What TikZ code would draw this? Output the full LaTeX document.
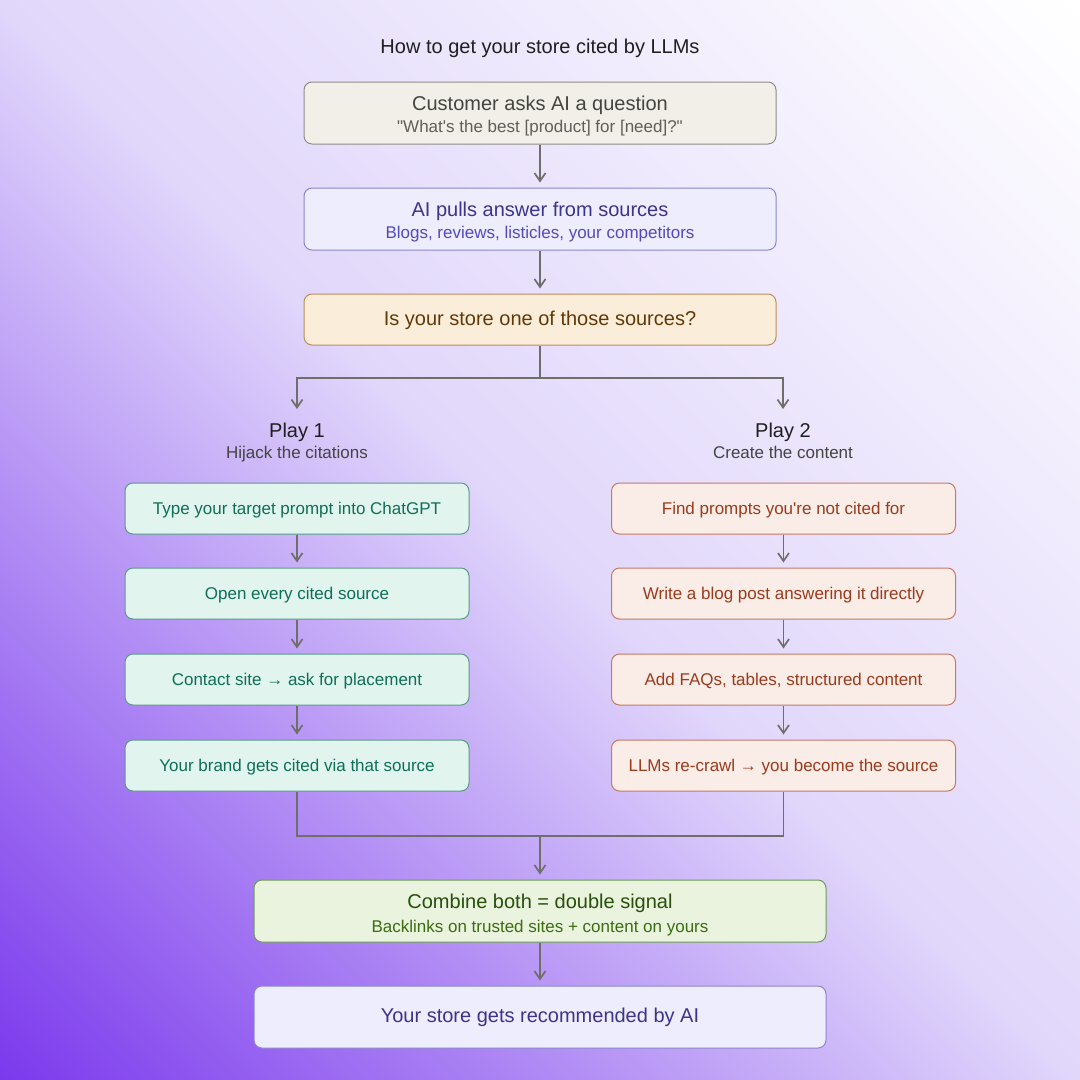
\documentclass[tikz,border=0pt]{standalone}
\usepackage{fontspec}
\setmainfont{Liberation Sans}[Ligatures=TeXOff]
\usetikzlibrary{arrows.meta}
\definecolor{bgA}{HTML}{7C3AED}
\definecolor{bgB}{HTML}{E1D7FB}
\definecolor{bgC}{HTML}{FFFFFF}
\pgfdeclarehorizontalshading{bgshade}{100bp}{color(0bp)=(bgA); color(14.64bp)=(bgA); color(50bp)=(bgB); color(85.36bp)=(bgC); color(100bp)=(bgC)}
\definecolor{grayF}{HTML}{F1EFE8}\definecolor{grayL}{HTML}{8F8D86}\definecolor{grayT}{HTML}{444441}\definecolor{grayS}{HTML}{5F5E5A}
\definecolor{purF}{HTML}{EEEDFE}\definecolor{purL}{HTML}{8A86CC}\definecolor{purT}{HTML}{3C3489}\definecolor{purS}{HTML}{534AB7}
\definecolor{ambF}{HTML}{FAEEDA}\definecolor{ambL}{HTML}{BE8D5A}\definecolor{ambT}{HTML}{633806}
\definecolor{teaF}{HTML}{E1F5EE}\definecolor{teaL}{HTML}{5A9A88}\definecolor{teaT}{HTML}{0F6E56}
\definecolor{corF}{HTML}{FAECE7}\definecolor{corL}{HTML}{C47A66}\definecolor{corT}{HTML}{993C1D}
\definecolor{grnF}{HTML}{EAF3DE}\definecolor{grnL}{HTML}{6E9A58}\definecolor{grnT}{HTML}{27500A}\definecolor{grnS}{HTML}{3B6D11}
\definecolor{arrC}{HTML}{6F6E6A}
\definecolor{headC}{HTML}{1F1F1F}
\begin{document}
\begin{tikzpicture}[x=1pt,y=-1pt,
  box/.style={draw, rounded corners=8pt, line width=1pt, inner sep=0pt},
  wbox/.style={box, minimum width=472pt, minimum height=62pt},
  sbox/.style={box, minimum width=344pt, minimum height=51pt},
  bbox/.style={box, minimum width=572pt, minimum height=62pt},
  tbig/.style={anchor=base, inner sep=0pt, font=\fontsize{20}{24}\selectfont},
  tsmall/.style={anchor=base, inner sep=0pt, font=\fontsize{17}{20}\selectfont},
  teal/.style={sbox, fill=teaF, draw=teaL},
  coral/.style={sbox, fill=corF, draw=corL},
  con/.style={draw=arrC, line width=1.7pt},
  arr/.style={con, -{Straight Barb[length=8pt,width=11pt]}},
]
\shade[shading=bgshade, shading angle=45] (0,0) rectangle (1080,1080);
\useasboundingbox (0,0) rectangle (1080,1080);

\node[tbig, text=headC] (title) at (540,53) {How to get your store cited by LLMs};

% top chain
\node[wbox, fill=grayF, draw=grayL] (q) at (540,113) {};
\node[tbig, text=grayT] (qa) at (540,110) {Customer asks AI a question};
\node[tsmall, text=grayS] (qb) at (540,132) {"What's the best [product] for [need]?"};

\node[wbox, fill=purF, draw=purL] (src) at (540,219) {};
\node[tbig, text=purT] (srca) at (540,216) {AI pulls answer from sources};
\node[tsmall, text=purS] (srcb) at (540,238) {Blogs, reviews, listicles, your competitors};

\node[box, minimum width=472pt, minimum height=51pt, fill=ambF, draw=ambL] (is) at (540,319.5) {};
\node[tbig, text=ambT] (isa) at (540,325) {Is your store one of those sources?};

\draw[arr, shorten >=5pt] (q.south) -- (src.north);
\draw[arr, shorten >=5pt] (src.south) -- (is.north);

% split
\coordinate (spl) at (540,378);
\coordinate (pla) at (297,409);
\coordinate (pra) at (783,409);
\draw[con] (is.south) -- (spl);
\draw[arr] (spl) -| (pla);
\draw[arr] (spl) -| (pra);

% play headings
\node[tbig, text=headC] (p1) at (297,437) {Play 1};
\node[tsmall, text=grayT] (p1s) at (297,458) {Hijack the citations};
\node[tbig, text=headC] (p2) at (783,437) {Play 2};
\node[tsmall, text=grayT] (p2s) at (783,458) {Create the content};

% left column
\node[teal] (l1) at (297,508.5) {};
\node[tsmall, text=teaT] (l1t) at (297,514) {Type your target prompt into ChatGPT};
\node[teal] (l2) at (297,593.5) {};
\node[tsmall, text=teaT] (l2t) at (297,599) {Open every cited source};
\node[teal] (l3) at (297,679.5) {};
\node[tsmall, text=teaT] (l3t) at (297,685) {Contact site → ask for placement};
\node[teal] (l4) at (297,765.5) {};
\node[tsmall, text=teaT] (l4t) at (297,771) {Your brand gets cited via that source};

% right column
\node[coral] (r1) at (783.5,508.5) {};
\node[tsmall, text=corT] (r1t) at (783.5,514) {Find prompts you're not cited for};
\node[coral] (r2) at (783.5,593.5) {};
\node[tsmall, text=corT] (r2t) at (783.5,599) {Write a blog post answering it directly};
\node[coral] (r3) at (783.5,679.5) {};
\node[tsmall, text=corT] (r3t) at (783.5,685) {Add FAQs, tables, structured content};
\node[coral] (r4) at (783.5,765.5) {};
\node[tsmall, text=corT] (r4t) at (783.5,771) {LLMs re-crawl → you become the source};

\foreach \a/\b in {l1/l2,l2/l3,l3/l4,r1/r2,r2/r3,r3/r4}
  \draw[arr, shorten >=5pt] (\a.south) -- (\b.north);

% merge
\coordinate (mrg) at (540,836);
\draw[con] (l4.south) |- (mrg);
\draw[con] (r4.south) |- (mrg);

\node[bbox, fill=grnF, draw=grnL] (g) at (540,911) {};
\node[tbig, text=grnT] (ga) at (540,908) {Combine both = double signal};
\node[tsmall, text=grnS] (gb) at (540,932) {Backlinks on trusted sites + content on yours};

\node[bbox, fill=purF, draw=purL] (fin) at (540,1017) {};
\node[tbig, text=purT] (fina) at (540,1022) {Your store gets recommended by AI};

\draw[arr, shorten >=5pt] (mrg) -- (g.north);
\draw[arr, shorten >=5pt] (g.south) -- (fin.north);
\end{tikzpicture}
\end{document}
